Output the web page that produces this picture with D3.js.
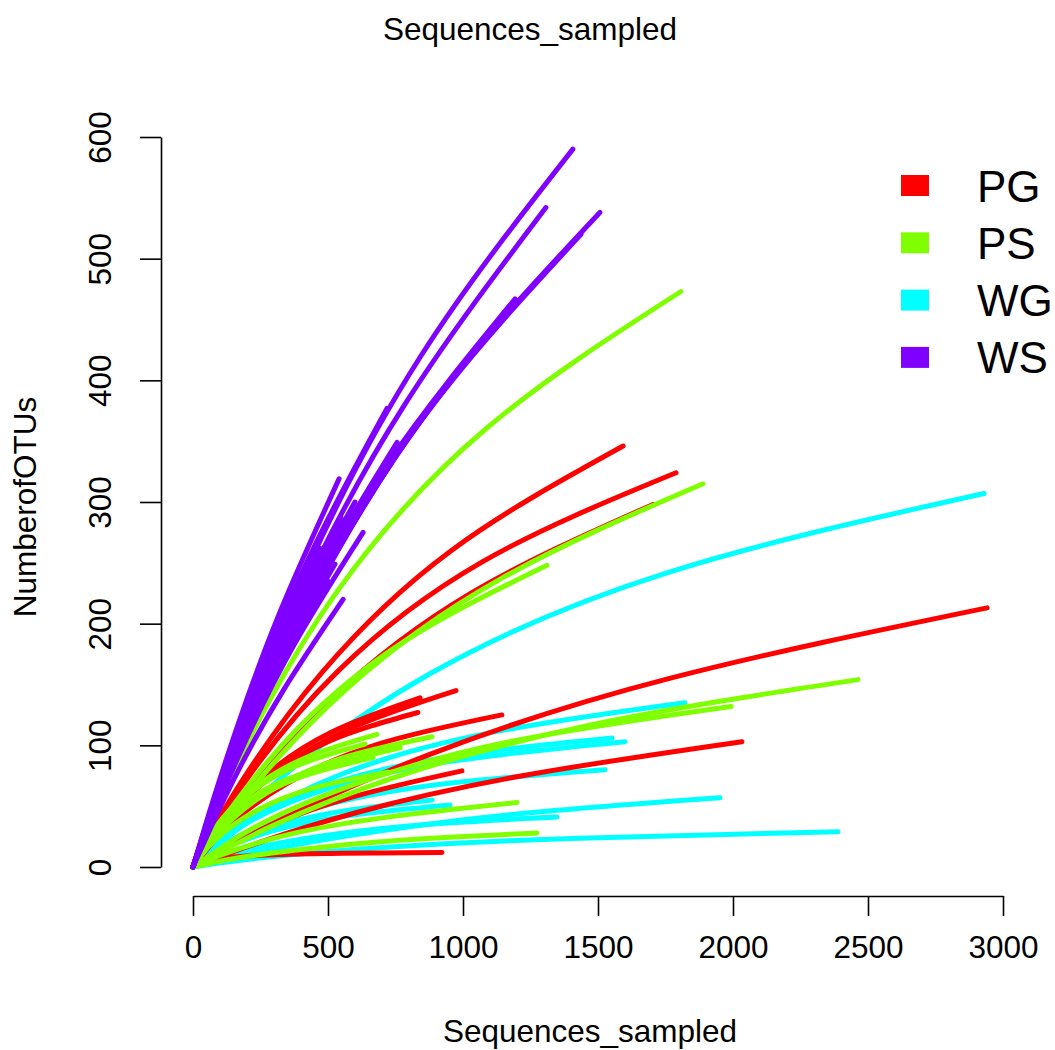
<!DOCTYPE html>
<html><head><meta charset="utf-8">
<script src="https://cdn.jsdelivr.net/npm/d3@7"></script>
<style>
body{margin:0;background:#fff}
svg{display:block}
text{font-family:"Liberation Sans",Arial,Helvetica,sans-serif;fill:#000}
</style>
</head><body>
<svg id="chart" width="1055" height="1050"></svg>
<script>
// ---------- data ----------
const groups = ["PG", "PS", "WG", "WS"];
const groupColors = ["#FF0000", "#80FF00", "#00FFFF", "#8000FF"];
const xTicks = [0, 500, 1000, 1500, 2000, 2500, 3000];
const yTicks = [0, 100, 200, 300, 400, 500, 600];
const mainTitle = "Sequences_sampled";
const xTitle = "Sequences_sampled";
const yTitle = "NumberofOTUs";

// rarefaction curves: [sequences sampled, number of OTUs]
const curvesWG = [
  [[0,0],[117,29],[352,78],[879,159],[1758,242],[2930,307]],
  [[0,0],[73,15],[219,39],[547,76],[1093,110],[1822,135]],
  [[0,0],[64,14],[192,35],[480,63],[960,87],[1600,103]],
  [[0,0],[62,14],[186,36],[466,65],[931,90],[1552,106]],
  [[0,0],[61,11],[183,27],[458,49],[916,68],[1526,80]],
  [[0,0],[54,4.6],[162,12],[404,23],[809,34],[1348,41]],
  [[0,0],[96,3.2],[287,8.4],[717,16.3],[1433,23.7],[2389,29]],
  [[0,0],[78,4.4],[234,12],[586,26],[1171,43],[1952,57]],
  [[0,0],[38,5.7],[114,15],[286,29],[571,42],[952,51]],
  [[0,0],[35,6],[106,16],[266,31],[531,45],[885,55]]
];
const curvesPG = [
  [[0,0],[64,27],[191,74],[478,160],[956,260],[1593,346]],
  [[0,0],[72,28],[215,77],[537,161],[1073,251],[1789,324]],
  [[0,0],[68,23],[204,64],[511,138],[1022,224],[1704,298]],
  [[0,0],[118,15],[353,42],[882,93],[1765,155],[2941,213]],
  [[0,0],[81,7],[244,20],[610,45],[1220,75],[2033,103]],
  [[0,0],[39,14],[117,37],[292,75],[584,114],[974,145]],
  [[0,0],[33,13],[100,35],[250,69],[500,103],[833,127]],
  [[0,0],[34,13],[101,35],[252,72],[505,110],[841,139]],
  [[0,0],[46,13],[137,35],[343,68],[686,101],[1144,125]],
  [[0,0],[40,6],[120,16],[299,35],[598,58],[996,79]],
  [[0,0],[37,3.8],[111,7.2],[277,9.9],[553,11.3],[922,12]]
];
const curvesPS = [
  [[0,0],[72,40],[217,109],[542,229],[1084,360],[1807,473]],
  [[0,0],[76,24],[227,67],[567,146],[1133,236],[1889,315]],
  [[0,0],[52,19],[157,53],[393,115],[787,186],[1311,248]],
  [[0,0],[99,12],[296,34],[739,73],[1478,117],[2463,154]],
  [[0,0],[80,12],[239,34],[598,68],[1196,104],[1993,132]],
  [[0,0],[48,5],[144,13],[360,27],[720,41],[1200,53]],
  [[0,0],[51,2.5],[153,7],[382,14],[764,22],[1274,28]],
  [[0,0],[35,12],[106,31],[266,60],[531,88],[885,107]],
  [[0,0],[31,11],[92,28],[230,55],[460,80],[767,98]],
  [[0,0],[27,12],[82,32],[204,61],[409,89],[681,109]],
  [[0,0],[27,10],[80,26],[200,51],[400,74],[667,90]],
  [[0,0],[25,11],[76,29],[191,57],[382,83],[637,101]],
  [[0,0],[29,9],[86,23],[216,44],[432,64],[720,78]],
  [[0,0],[23,10],[70,26],[174,50],[348,72],[580,88]]
];
const curvesWS = [
  [[0,0],[56,38],[169,108],[422,245],[844,420],[1407,590]],
  [[0,0],[52,34],[157,97],[392,220],[784,380],[1307,542]],
  [[0,0],[60,36],[181,101],[452,226],[904,385],[1507,538]],
  [[0,0],[57,34],[172,97],[431,218],[862,372],[1437,520]],
  [[0,0],[48,30],[143,85],[358,192],[716,330],[1193,467]],
  [[0,0],[29,21],[86,60],[216,141],[431,255],[719,377]],
  [[0,0],[30,19],[91,56],[227,131],[454,236],[756,349]],
  [[0,0],[29,18],[88,53],[220,125],[440,225],[733,332]],
  [[0,0],[22,16],[65,48],[162,114],[325,211],[541,319]],
  [[0,0],[22,15],[66,43],[164,103],[329,190],[548,287]],
  [[0,0],[25,15],[76,43],[189,101],[378,184],[630,275]],
  [[0,0],[21,13],[63,38],[158,89],[316,165],[526,249]],
  [[0,0],[22,11],[67,33],[167,79],[334,145],[556,220]],
  [[0,0],[19,13],[56,39],[141,94],[282,173],[470,262]],
  [[0,0],[20,12],[60,35],[150,84],[300,155],[500,235]],
  [[0,0],[17,12],[52,36],[129,86],[258,159],[430,240]],
  [[0,0],[24,16],[72,47],[180,110],[360,201],[600,300]]
];

// ---------- drawing ----------
const svg = d3.select("#chart");
const x = d3.scaleLinear().domain([0, 3000]).range([193, 1003]);
const y = d3.scaleLinear().domain([0, 600]).range([867, 137]);
const FS = 31.5;

const line = d3.line()
  .x(d => x(d[0])).y(d => y(d[1]))
  .curve(d3.curveNatural);

const layers = [
  {curves: curvesWG, color: groupColors[2]},
  {curves: curvesPG, color: groupColors[0]},
  {curves: curvesPS, color: groupColors[1]},
  {curves: curvesWS, color: groupColors[3]}
];
layers.forEach(L => {
  svg.append("g").selectAll("path").data(L.curves).join("path")
    .attr("d", line)
    .attr("fill", "none")
    .attr("stroke", L.color)
    .attr("stroke-width", 5)
    .attr("stroke-linecap", "round")
    .attr("stroke-linejoin", "round");
});

// x axis
const xAxis = d3.axisBottom(x).tickValues(xTicks).tickFormat(d3.format("d"))
  .tickSize(20).tickPadding(20).tickSizeOuter(0);
const gx = svg.append("g").attr("transform", "translate(0,896)").call(xAxis);
gx.select(".domain").attr("stroke", "#000").attr("stroke-width", 1.6);
gx.selectAll(".tick line").attr("stroke", "#000").attr("stroke-width", 1.6);
gx.selectAll(".tick text").attr("font-size", FS)
  .attr("font-family", '"Liberation Sans",Arial,sans-serif').attr("fill", "#000");

// y axis
const yAxis = d3.axisLeft(y).tickValues(yTicks).tickFormat(d3.format("d"))
  .tickSize(21).tickPadding(0).tickSizeOuter(0);
const gy = svg.append("g").attr("transform", "translate(161,0)").call(yAxis);
gy.select(".domain").attr("stroke", "#000").attr("stroke-width", 1.6);
gy.selectAll(".tick line").attr("stroke", "#000").attr("stroke-width", 1.6);
gy.selectAll(".tick text")
  .attr("font-size", FS)
  .attr("font-family", '"Liberation Sans",Arial,sans-serif')
  .attr("fill", "#000")
  .attr("x", null).attr("dy", null)
  .attr("text-anchor", "middle")
  .attr("transform", "translate(-50,0) rotate(-90)");

// titles
svg.append("text").attr("x", 530).attr("y", 40).attr("text-anchor", "middle")
  .attr("font-size", FS).text(mainTitle);
svg.append("text").attr("x", 590).attr("y", 1042).attr("text-anchor", "middle")
  .attr("font-size", FS).text(xTitle);
svg.append("text").attr("transform", "translate(36,507) rotate(-90)")
  .attr("text-anchor", "middle").attr("font-size", FS).text(yTitle);

// legend
const leg = svg.append("g");
groups.forEach((g, i) => {
  const cy = 185.5 + i * 57.3;
  leg.append("rect").attr("x", 901).attr("y", cy - 10.5).attr("width", 28).attr("height", 21)
    .attr("fill", groupColors[i]);
  leg.append("text").attr("x", 977).attr("y", cy + 16).attr("font-size", 44).text(g);
});
</script>
</body></html>
